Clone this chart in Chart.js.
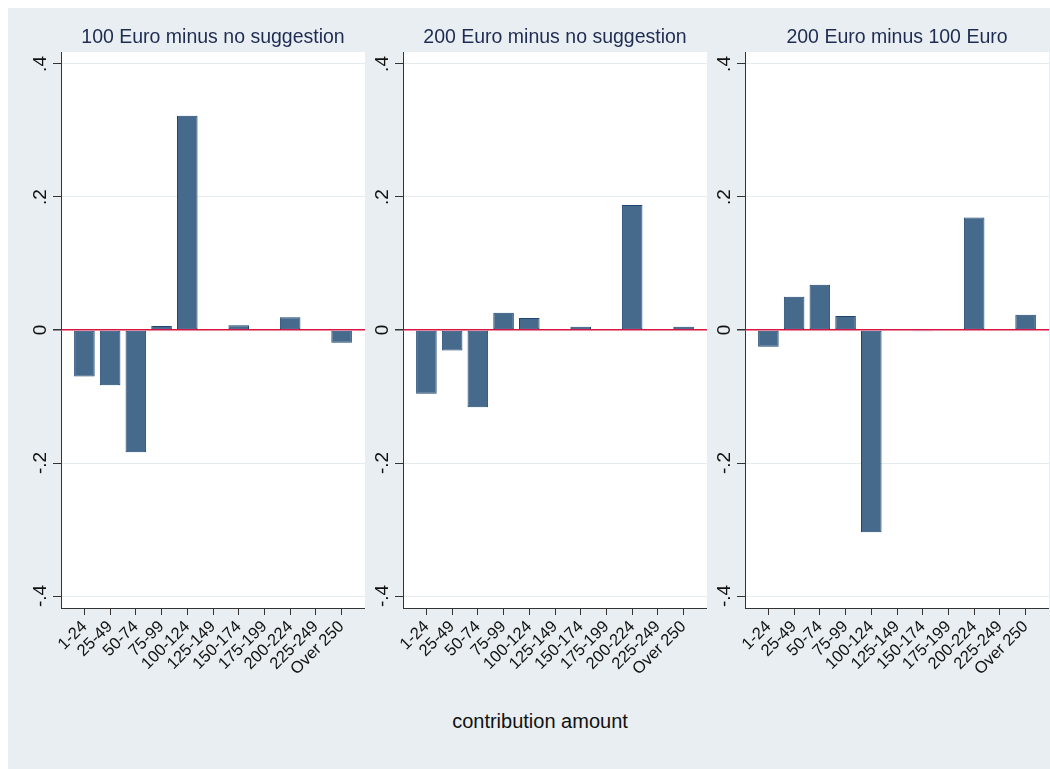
<!DOCTYPE html>
<html>
<head>
<meta charset="utf-8">
<script src="https://cdn.jsdelivr.net/npm/chart.js@4.4.1/dist/chart.umd.min.js"></script>
<style>
  body { margin: 0; background: #fff; width: 1050px; height: 769px; position: relative; overflow: hidden; font-family: "Liberation Sans", Arial, sans-serif; }
  .bg { position: absolute; left: 8px; top: 8px; width: 1042px; height: 761px; background: #E8EEF1; }
  canvas { position: absolute; top: 0; }
  #xtitle { position: absolute; left: 0; width: 1080px; top: 709px; text-align: center; font-size: 20px; line-height: 24px; color: #111; }
</style>
</head>
<body>
<div class="bg"></div>
<canvas id="p1" width="342" height="698" style="left:23px"></canvas>
<canvas id="p2" width="342" height="698" style="left:365px"></canvas>
<canvas id="p3" width="342" height="698" style="left:707px"></canvas>
<div id="xtitle">contribution amount</div>
<script>
const categories = ["1-24", "25-49", "50-74", "75-99", "100-124", "125-149", "150-174", "175-199", "200-224", "225-249", "Over 250"];
const panelTitles = ["100 Euro minus no suggestion", "200 Euro minus no suggestion", "200 Euro minus 100 Euro"];
const diff100vsNone = [-0.070, -0.083, -0.184, 0.006, 0.322, 0, 0.007, 0, 0.019, 0, -0.019];
const diff200vsNone = [-0.096, -0.031, -0.116, 0.026, 0.018, 0, 0.005, 0, 0.188, 0, 0.005];
const diff200vs100 = [-0.025, 0.050, 0.068, 0.021, -0.304, 0, -0.002, 0, 0.169, 0, 0.023];
const yTicks = [-0.4, -0.2, 0, 0.2, 0.4];
const yTickLabels = ["-.4", "-.2", "0", ".2", ".4"];

const fontFamily = '"Liberation Sans", Arial, sans-serif';

// white plot region, the rest stays the grey page colour
const plotBg = {
  id: "plotBg",
  beforeDraw(chart) {
    const a = chart.chartArea;
    const ctx = chart.ctx;
    ctx.save();
    ctx.fillStyle = "#ffffff";
    ctx.fillRect(a.left, a.top, a.right - a.left, a.bottom - a.top);
    ctx.restore();
  }
};

// y labels turned on their side, like the original
const yLabels = {
  id: "yLabels",
  afterDraw(chart) {
    const s = chart.scales.y;
    const ctx = chart.ctx;
    ctx.save();
    ctx.fillStyle = "#111";
    ctx.font = "19px " + fontFamily;
    ctx.textAlign = "center";
    ctx.textBaseline = "middle";
    yTicks.forEach((v, i) => {
      ctx.save();
      ctx.translate(s.right - 20, s.getPixelForValue(v));
      ctx.rotate(-Math.PI / 2);
      ctx.fillText(yTickLabels[i], 0, 0);
      ctx.restore();
    });
    ctx.restore();
  }
};

function makePanel(id, title, values) {
  new Chart(document.getElementById(id), {
    type: "bar",
    data: {
      datasets: [{
        data: values.map((v, i) => ({ x: i, y: v })),
        backgroundColor: "#466A8C",
        borderColor: "#1D4570",
        borderWidth: ctx => (ctx.raw && ctx.raw.y !== 0 ? 1 : 0),
        borderSkipped: false,
        barPercentage: 0.8,
        categoryPercentage: 1,
      }],
    },
    options: {
      responsive: false,
      animation: false,
      events: [],
      layout: { padding: { top: 25.6, left: 0, right: 0, bottom: 0 } },
      plugins: {
        legend: { display: false },
        tooltip: { enabled: false },
        title: {
          display: true,
          text: title,
          fullSize: false,
          color: "#1F2C52",
          font: { family: fontFamily, size: 19.5, weight: "normal", lineHeight: 1.2 },
          padding: { top: 0, bottom: 3 },
        },
      },
      scales: {
        x: {
          type: "linear",
          offset: false,
          min: -0.91,
          max: 10.91,
          afterBuildTicks: s => { s.ticks = categories.map((c, i) => ({ value: i })); },
          afterFit: s => { s.height = 90; },
          ticks: {
            autoSkip: false,
            minRotation: 45,
            maxRotation: 45,
            padding: 2,
            color: "#111",
            font: { family: fontFamily, size: 16.5 },
            callback: v => categories[v],
          },
          grid: { offset: false, drawOnChartArea: false, tickLength: 7, tickColor: "#333" },
          border: { color: "#333", width: 1 },
        },
        y: {
          min: -0.418,
          max: 0.418,
          afterBuildTicks: s => { s.ticks = yTicks.map(v => ({ value: v })); },
          afterFit: s => { s.width = 38; },
          ticks: { display: false },
          grid: {
            color: ctx => (ctx.tick && ctx.tick.value === 0 ? "#DC1443" : "#E4EBEE"),
            lineWidth: ctx => (ctx.tick && ctx.tick.value === 0 ? 1.5 : 1),
            tickLength: 8,
            tickColor: "#333",
          },
          border: { color: "#333", width: 1 },
        },
      },
    },
    plugins: [plotBg, yLabels],
  });
}

makePanel("p1", panelTitles[0], diff100vsNone);
makePanel("p2", panelTitles[1], diff200vsNone);
makePanel("p3", panelTitles[2], diff200vs100);
</script>
</body>
</html>
